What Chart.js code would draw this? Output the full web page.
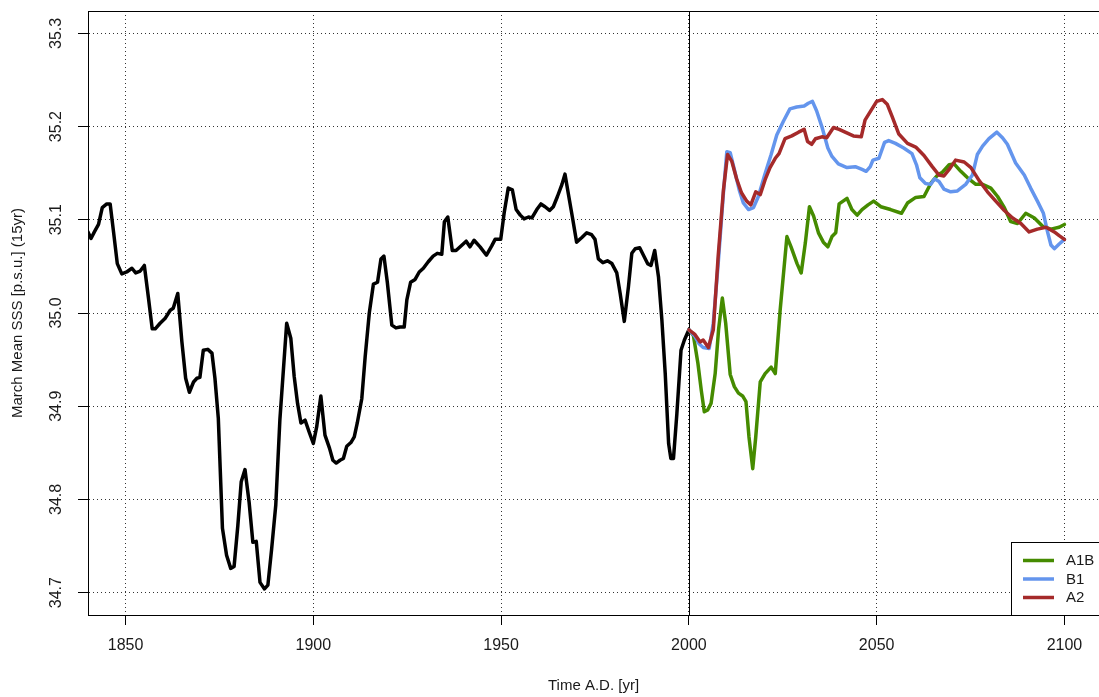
<!DOCTYPE html>
<html>
<head>
<meta charset="utf-8">
<script src="https://cdn.jsdelivr.net/npm/chart.js@4/dist/chart.umd.min.js"></script>
<style>
  html, body { margin: 0; padding: 0; background: #fff; }
  #wrap { width: 1099px; height: 697px; }
</style>
</head>
<body>
<div id="wrap"><canvas id="c" width="1099" height="697"></canvas></div>
<script>
// Observed March mean SSS, 15-year running mean
const obsYears = [1840.0,1840.8,1841.7,1842.8,1843.8,1845.0,1845.9,1846.8,1847.8,1849.0,1850.3,1851.7,1852.7,1853.9,1855.0,1856.1,1857.1,1857.9,1859.2,1860.5,1861.9,1862.7,1863.9,1865.0,1866.0,1867.0,1868.1,1869.0,1869.8,1870.7,1871.9,1873.0,1873.8,1874.7,1875.8,1876.9,1878.0,1878.9,1879.9,1880.8,1881.8,1882.9,1883.9,1884.8,1885.8,1887.0,1887.9,1888.9,1890.0,1891.1,1892.9,1894.0,1894.9,1895.8,1896.7,1897.8,1899.0,1900.0,1900.9,1902.0,1903.1,1904.3,1905.2,1906.1,1907.1,1908.0,1908.9,1910.0,1910.9,1911.7,1912.9,1913.8,1914.9,1916.0,1917.1,1918.0,1918.8,1919.7,1920.9,1922.0,1923.1,1924.2,1924.9,1925.9,1927.1,1928.2,1929.3,1930.6,1931.9,1933.0,1934.2,1934.9,1935.8,1937.0,1938.0,1939.1,1940.7,1941.7,1942.8,1944.4,1946.1,1947.5,1948.4,1949.9,1950.8,1951.9,1953.0,1954.0,1955.1,1956.1,1957.3,1958.2,1959.5,1960.6,1961.7,1962.9,1963.9,1965.0,1966.2,1967.0,1968.2,1969.1,1970.1,1971.5,1972.8,1974.1,1975.0,1975.9,1977.1,1978.3,1979.5,1980.8,1981.7,1982.8,1983.9,1984.8,1985.7,1986.9,1987.9,1989.0,1989.9,1990.9,1991.9,1992.8,1993.7,1994.6,1995.2,1995.9,1996.8,1997.9,1998.8,2000.0];
const obsSSS = [35.087,35.080,35.087,35.095,35.113,35.117,35.117,35.087,35.053,35.042,35.044,35.048,35.043,35.045,35.051,35.016,34.983,34.983,34.989,34.994,35.003,35.005,35.021,34.969,34.930,34.915,34.926,34.930,34.931,34.960,34.961,34.957,34.930,34.887,34.769,34.740,34.726,34.728,34.772,34.819,34.832,34.797,34.754,34.755,34.711,34.704,34.708,34.747,34.794,34.886,34.989,34.973,34.932,34.903,34.882,34.885,34.871,34.860,34.878,34.911,34.869,34.855,34.842,34.839,34.842,34.844,34.857,34.861,34.867,34.882,34.908,34.953,35.000,35.031,35.033,35.058,35.061,35.033,34.987,34.984,34.985,34.985,35.014,35.033,35.036,35.044,35.048,35.055,35.061,35.064,35.063,35.098,35.103,35.067,35.067,35.071,35.077,35.071,35.078,35.071,35.062,35.072,35.079,35.079,35.107,35.134,35.132,35.111,35.105,35.101,35.103,35.102,35.111,35.117,35.114,35.110,35.114,35.125,35.138,35.149,35.121,35.100,35.076,35.081,35.086,35.084,35.079,35.058,35.054,35.056,35.053,35.043,35.021,34.991,35.028,35.064,35.069,35.070,35.062,35.053,35.051,35.067,35.039,34.993,34.935,34.860,34.844,34.844,34.892,34.960,34.971,34.982];

// Scenario A1B
const a1bYears = [2000.0,2001.2,2002.4,2003.3,2004.1,2005.0,2005.9,2007.0,2007.9,2008.9,2009.8,2011.0,2012.1,2013.2,2014.3,2015.2,2016.0,2017.0,2017.8,2019.0,2020.3,2021.9,2023.0,2024.3,2026.1,2027.2,2028.8,2029.9,2031.0,2032.1,2033.2,2034.5,2035.8,2037.0,2038.1,2039.1,2040.0,2042.1,2043.4,2044.8,2046.1,2047.7,2049.2,2051.1,2053.7,2056.6,2058.2,2060.4,2062.6,2064.4,2066.2,2067.5,2069.3,2070.6,2072.4,2074.2,2076.4,2078.2,2080.4,2082.2,2084.0,2085.7,2087.5,2089.7,2092.0,2094.2,2096.4,2098.6,2100.0];
const a1bSSS = [34.982,34.976,34.946,34.917,34.894,34.896,34.903,34.935,34.982,35.016,34.989,34.934,34.921,34.914,34.911,34.905,34.867,34.833,34.867,34.926,34.935,34.942,34.935,35.003,35.082,35.071,35.053,35.043,35.075,35.114,35.104,35.086,35.076,35.071,35.082,35.086,35.117,35.123,35.111,35.105,35.111,35.116,35.120,35.114,35.111,35.107,35.118,35.124,35.125,35.139,35.148,35.151,35.159,35.160,35.152,35.145,35.138,35.138,35.134,35.125,35.113,35.098,35.096,35.107,35.102,35.093,35.090,35.092,35.095];

// Scenario B1
const b1Years = [2000.0,2001.6,2002.7,2003.8,2005.4,2006.5,2007.8,2009.2,2010.1,2011.0,2012.1,2013.4,2014.5,2015.9,2017.2,2018.5,2020.1,2021.9,2023.4,2025.2,2026.9,2028.7,2030.7,2031.8,2032.9,2034.0,2035.4,2037.0,2038.1,2039.8,2042.1,2044.3,2046.1,2047.2,2048.3,2049.0,2050.6,2052.1,2053.2,2055.0,2057.2,2059.4,2060.6,2061.5,2063.0,2064.4,2065.4,2066.6,2067.9,2069.7,2071.5,2073.7,2075.5,2076.8,2078.2,2079.9,2082.0,2083.5,2084.8,2087.0,2089.3,2091.0,2092.8,2094.4,2095.5,2096.4,2097.3,2098.6,2100.0];
const b1SSS = [34.982,34.975,34.967,34.963,34.962,34.989,35.053,35.129,35.173,35.172,35.154,35.132,35.118,35.111,35.113,35.125,35.147,35.170,35.191,35.206,35.219,35.221,35.222,35.225,35.227,35.217,35.200,35.177,35.168,35.160,35.156,35.157,35.154,35.152,35.157,35.164,35.166,35.183,35.185,35.182,35.177,35.171,35.159,35.145,35.139,35.138,35.144,35.141,35.133,35.130,35.131,35.138,35.148,35.170,35.179,35.187,35.194,35.188,35.181,35.161,35.148,35.134,35.120,35.107,35.087,35.073,35.069,35.074,35.079];

// Scenario A2
const a2Years = [2000.0,2001.6,2003.0,2003.8,2005.2,2006.5,2007.8,2009.2,2010.3,2011.4,2012.7,2014.0,2015.4,2016.5,2017.8,2019.0,2020.3,2021.6,2023.0,2024.0,2025.6,2027.4,2029.2,2030.7,2031.6,2032.7,2033.7,2035.4,2036.7,2038.5,2040.0,2041.6,2043.8,2045.9,2046.9,2048.3,2050.0,2051.5,2052.8,2054.1,2055.9,2058.2,2060.4,2062.6,2064.8,2066.6,2067.9,2069.3,2071.0,2073.3,2075.1,2077.3,2079.5,2081.7,2084.0,2086.2,2088.4,2090.6,2092.8,2095.1,2097.3,2098.6,2100.0];
const a2SSS = [34.982,34.977,34.969,34.971,34.963,34.982,35.061,35.132,35.170,35.163,35.144,35.129,35.120,35.116,35.130,35.127,35.143,35.156,35.166,35.171,35.187,35.190,35.194,35.197,35.184,35.181,35.187,35.189,35.188,35.199,35.197,35.194,35.190,35.189,35.207,35.216,35.227,35.229,35.224,35.211,35.192,35.182,35.178,35.169,35.157,35.148,35.147,35.154,35.164,35.162,35.156,35.142,35.130,35.120,35.110,35.102,35.096,35.087,35.090,35.092,35.087,35.083,35.079];

// Axis tick values
const xTicks = [1850, 1900, 1950, 2000, 2050, 2100];
const yTicks = [34.7, 34.8, 34.9, 35.0, 35.1, 35.2, 35.3];

const FONT = "'Liberation Sans', Arial, Helvetica, sans-serif";
const TEXT = '#1a1a1a';

function pairs(xs, ys) { return xs.map((x, i) => ({ x: x, y: ys[i] })); }

// Box around the plotting region, the reference line at year 2000,
// rotated y tick labels and the scenario legend
const framePlugin = {
  id: 'frame',
  beforeDatasetsDraw(chart) {
    const { ctx, chartArea: a, scales: { x } } = chart;
    const px = Math.round(x.getPixelForValue(2000)) + 0.5;
    ctx.save();
    ctx.strokeStyle = '#000';
    ctx.lineWidth = 1;
    ctx.beginPath();
    ctx.moveTo(px, a.top);
    ctx.lineTo(px, a.bottom);
    ctx.stroke();
    ctx.restore();
  },
  afterDraw(chart) {
    const { ctx, chartArea: a, scales: { y } } = chart;
    ctx.save();
    ctx.strokeStyle = '#000';
    ctx.lineWidth = 1;
    ctx.beginPath();
    ctx.moveTo(a.left, Math.round(a.top) + 0.5);
    ctx.lineTo(a.right + 2, Math.round(a.top) + 0.5);
    ctx.stroke();

    // y tick labels, drawn parallel to the axis
    ctx.fillStyle = TEXT;
    ctx.font = '16px ' + FONT;
    ctx.textAlign = 'center';
    ctx.textBaseline = 'middle';
    y.ticks.forEach(t => {
      const py = y.getPixelForValue(t.value);
      ctx.save();
      ctx.translate(57, py);
      ctx.rotate(-Math.PI / 2);
      ctx.fillText(t.label != null ? t.label : t.value.toFixed(1), 0, 0);
      ctx.restore();
    });

    // legend box in the lower right corner
    const shown = chart.data.datasets.filter(d => d.inLegend);
    const bx = 1011.5, by = 542.5, bw = 100, bh = Math.round(a.bottom) - 542;
    ctx.fillStyle = '#fff';
    ctx.fillRect(bx, by, bw, bh);
    ctx.strokeStyle = '#000';
    ctx.lineWidth = 1;
    ctx.strokeRect(bx, by, bw, bh);
    ctx.font = '15px ' + FONT;
    ctx.textAlign = 'left';
    ctx.textBaseline = 'middle';
    shown.forEach((d, i) => {
      const ly = 560.5 + i * 18.5;
      ctx.strokeStyle = d.borderColor;
      ctx.lineWidth = 3.5;
      ctx.lineCap = 'butt';
      ctx.beginPath();
      ctx.moveTo(1023, ly);
      ctx.lineTo(1054, ly);
      ctx.stroke();
      ctx.fillStyle = TEXT;
      ctx.fillText(d.label, 1066, ly + 0.5);
    });
    ctx.restore();
  }
};

new Chart(document.getElementById('c'), {
  type: 'line',
  data: {
    // listed in legend order; 'order' puts A2 on top, then B1, then A1B
    datasets: [
      { label: 'A1B', data: pairs(a1bYears, a1bSSS), borderColor: '#458B00', order: 2, inLegend: true },
      { label: 'B1', data: pairs(b1Years, b1SSS), borderColor: '#6495ED', order: 1, inLegend: true },
      { label: 'A2', data: pairs(a2Years, a2SSS), borderColor: '#A52A2A', order: 0, inLegend: true },
      { label: 'Observed', data: pairs(obsYears, obsSSS), borderColor: '#000000', order: 3, inLegend: false }
    ].map(d => Object.assign({ fill: false, borderWidth: 3.5, pointRadius: 0, tension: 0,
      borderJoinStyle: 'round', borderCapStyle: 'round' }, d))
  },
  options: {
    responsive: false,
    animation: false,
    devicePixelRatio: 1,
    layout: { padding: { top: 11, right: 0, bottom: 0, left: 0 } },
    plugins: { legend: { display: false }, tooltip: { enabled: false } },
    scales: {
      x: {
        type: 'linear',
        min: 1840,
        max: 2109.2,
        afterBuildTicks: s => { s.ticks = xTicks.map(v => ({ value: v })); },
        afterFit: s => { s.height = 82; },
        grid: { color: '#333', lineWidth: 1, tickLength: 10, tickColor: '#000', tickWidth: 1, tickBorderDash: [] },
        border: { display: true, color: '#000', width: 1, dash: [1, 3] },
        ticks: {
          autoSkip: false, maxRotation: 0, minRotation: 0, padding: 11, color: TEXT,
          font: { family: FONT, size: 16 }, callback: v => String(v)
        },
        title: { display: true, text: 'Time A.D. [yr]', color: TEXT, font: { family: FONT, size: 15 }, padding: { top: 0, bottom: 2 } }
      },
      y: {
        type: 'linear',
        min: 34.676,
        max: 35.324,
        afterBuildTicks: s => { s.ticks = yTicks.map(v => ({ value: v })); },
        afterFit: s => { s.width = 88; },
        grid: { color: '#333', lineWidth: 1, tickLength: 10, tickColor: '#000', tickWidth: 1, tickBorderDash: [] },
        border: { display: true, color: '#000', width: 1, dash: [1, 3] },
        ticks: { display: false, callback: v => Number(v).toFixed(1) },
        title: { display: true, text: 'March Mean SSS [p.s.u.] (15yr)', color: TEXT, font: { family: FONT, size: 15 }, padding: { top: 9, bottom: 0 } }
      }
    }
  },
  plugins: [framePlugin]
});
</script>
</body>
</html>
